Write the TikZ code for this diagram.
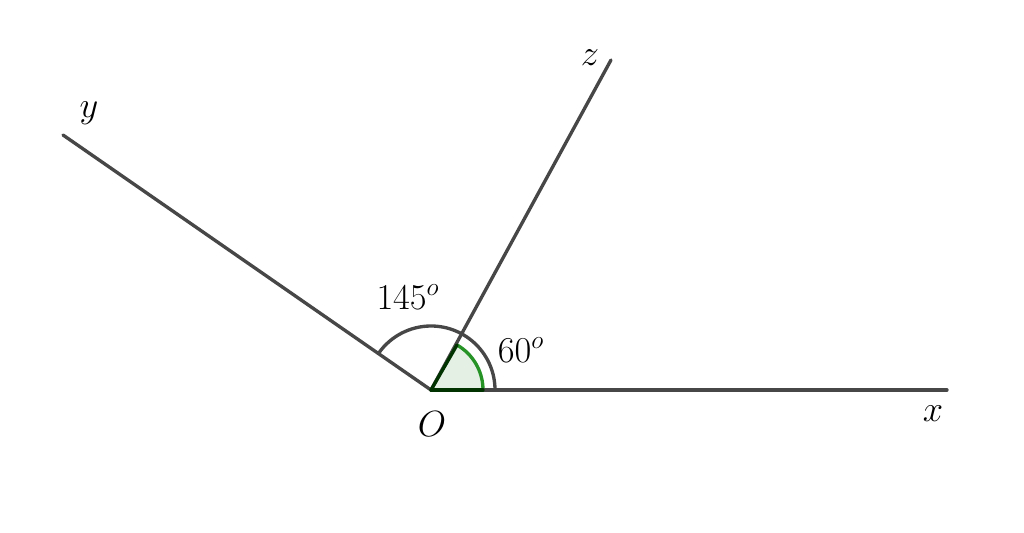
\documentclass[tikz,border=0pt]{standalone}
\begin{document}
\begin{tikzpicture}[x=0.02cm,y=-0.02cm,
  ray/.style={draw=black!72, line width=1.9pt, line cap=round},
  bigarc/.style={draw=black!72, line width=1.9pt},
  greenarc/.style={draw=green!50!black!85, line width=1.9pt},
  greenfill/.style={fill=green!40!black!10},
  lbl/.style={font=\fontsize{20.74}{24}\selectfont, inner sep=0pt}]
\useasboundingbox (0,0) rectangle (1024,533);
\coordinate (O) at (431,390);
\coordinate (X) at (947,390);
\coordinate (Z) at (611,60);
\coordinate (Y) at (63,135);
% green sector
\fill[greenfill] (O) -- ++(52,0) arc[start angle=0,end angle=-60,radius=52] -- cycle;
\draw[greenarc] (O) ++(52,0) arc[start angle=0,end angle=-60,radius=52];
\draw[bigarc] (O) ++(64,0) arc[start angle=0,end angle=-145,radius=64];
\draw[ray] (O) -- (X);
\draw[ray] (O) -- (Z);
\draw[ray] (O) -- (Y);
\draw[line width=1.9pt, line cap=round, draw=green!20!black] (O) -- ++(52,0);
\draw[line width=1.9pt, line cap=round, draw=green!20!black] (O) -- ++(-60:52);
\node[lbl] (ly) at (89,113) {$y$};
\node[lbl] (lz) at (590,58) {$z$};
\node[lbl] (lx) at (933,414) {$x$};
\node[lbl] (lO) at (432,424) {$O$};
\node[lbl] (l145) at (408,297) {$145^o$};
\node[lbl] (l60) at (521,350) {$60^o$};
\end{tikzpicture}
\end{document}
